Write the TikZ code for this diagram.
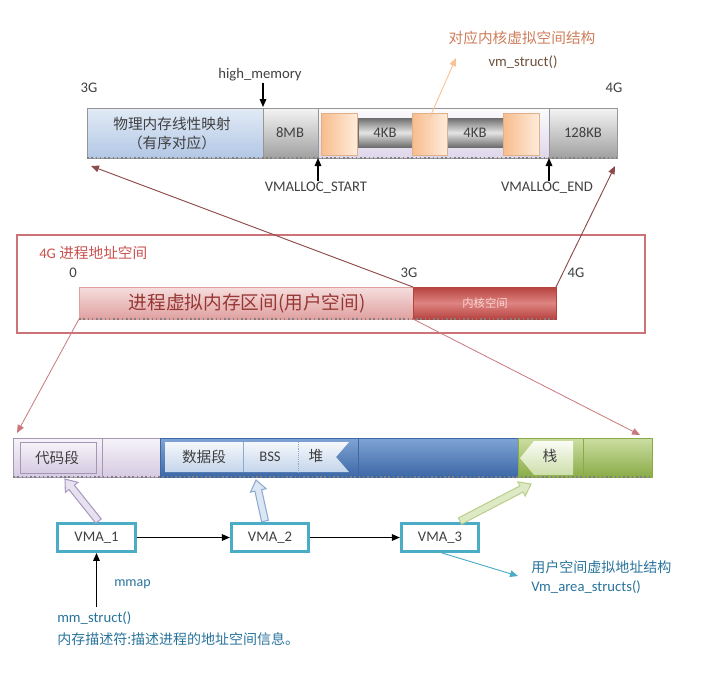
\documentclass[tikz,border=0pt]{standalone}
\usepackage{fontspec}
\setmainfont{Carlito}
\newfontfamily\cjk{Noto Sans CJK SC}
\usetikzlibrary{arrows.meta,positioning,calc}

\definecolor{txtdark}{RGB}{64,64,64}
\definecolor{bargrey}{RGB}{150,150,150}
\definecolor{physTop}{RGB}{226,235,246}
\definecolor{physBot}{RGB}{178,199,229}
\definecolor{greyTop}{RGB}{244,244,244}
\definecolor{greyBot}{RGB}{160,160,160}
\definecolor{lavTop}{RGB}{252,251,253}
\definecolor{lavBot}{RGB}{222,214,234}
\definecolor{orgL}{RGB}{248,188,140}
\definecolor{orgR}{RGB}{254,236,220}
\definecolor{kbDark}{RGB}{110,110,110}
\definecolor{kbLight}{RGB}{228,228,228}
\definecolor{orangetxt}{RGB}{205,125,90}
\definecolor{browntxt}{RGB}{110,80,60}
\definecolor{orangeline}{RGB}{250,195,150}
\definecolor{framered}{RGB}{205,115,120}
\definecolor{titlered}{RGB}{200,80,77}
\definecolor{userTop}{RGB}{246,222,222}
\definecolor{userBot}{RGB}{224,160,160}
\definecolor{usertxt}{RGB}{150,55,52}
\definecolor{kerDark}{RGB}{182,66,63}
\definecolor{kerLight}{RGB}{222,132,129}
\definecolor{kertxt}{RGB}{250,215,215}
\definecolor{linkdark}{RGB}{140,75,75}
\definecolor{linkpink}{RGB}{200,120,125}
\definecolor{codeTop}{RGB}{246,243,249}
\definecolor{codeBot}{RGB}{214,203,226}
\definecolor{codeEdge}{RGB}{165,150,180}
\definecolor{blueTop}{RGB}{128,164,212}
\definecolor{blueBot}{RGB}{60,104,166}
\definecolor{boxTop}{RGB}{245,248,252}
\definecolor{boxBot}{RGB}{196,213,235}
\definecolor{greenTop}{RGB}{204,222,162}
\definecolor{greenBot}{RGB}{138,172,72}
\definecolor{stackTop}{RGB}{250,252,245}
\definecolor{stackBot}{RGB}{205,222,170}
\definecolor{vmateal}{RGB}{75,172,198}
\definecolor{notetxt}{RGB}{40,115,155}
\definecolor{lavFill}{RGB}{232,226,240}
\definecolor{lavEdge}{RGB}{170,155,195}
\definecolor{ltblueFill}{RGB}{220,231,244}
\definecolor{ltblueEdge}{RGB}{140,170,210}
\definecolor{ltgreenFill}{RGB}{222,234,198}
\definecolor{ltgreenEdge}{RGB}{185,208,140}

% hollow block arrow: style, tail, tip, name
\newcommand{\blockarrow}[4]{%
  \coordinate (#4h) at ($(#3)!8pt!(#2)$);
  \draw[#1] ($(#2)!2.6pt!90:(#3)$) -- ($(#4h)!2.6pt!90:(#3)$) -- ($(#4h)!6pt!90:(#3)$) -- (#3)
    -- ($(#4h)!6pt!-90:(#3)$) -- ($(#4h)!2.6pt!-90:(#3)$) -- ($(#2)!2.6pt!-90:(#3)$) -- cycle;}

\begin{document}
\begin{tikzpicture}[x=0.75pt,y=0.75pt,yscale=-1,xscale=1,
    lbl/.style={inner sep=0.75pt,text=txtdark,font=\fontsize{11}{13}\selectfont},
    zh/.style={inner sep=0.75pt,text=txtdark,font=\cjk\fontsize{11}{13}\selectfont},
    edge/.style={draw=bargrey,line width=0.6pt},
    shadowline/.style={draw=gray,dotted,line width=1.2pt},
    ptr/.style={-{Triangle[length=6pt,width=5pt]},line width=0.8pt},
    vmabox/.style={draw=vmateal,line width=2.2pt,fill=white,minimum width=58pt,minimum height=21pt,inner sep=0pt,text=txtdark,font=\fontsize{11}{13}\selectfont}]
\path[use as bounding box] (0,0) rectangle (706,676);

%% ---- kernel virtual address space (top bar) ----
\draw[edge,top color=physTop,bottom color=physBot] (87,108) rectangle (263,158);
\draw[edge,top color=greyTop,bottom color=greyBot] (263,108) rectangle (318,158);
\draw[edge,top color=lavTop,bottom color=lavBot] (318,108) rectangle (549,158);
\draw[edge,top color=greyTop,bottom color=greyBot] (549,108) rectangle (617,158);
\draw[shadowline] (87,158) -- (617,158);
% vm areas inside vmalloc
\draw[draw=kbDark,line width=0.6pt,top color=kbDark,bottom color=kbDark,middle color=kbLight] (358,118) rectangle (412,147);
\draw[draw=kbDark,line width=0.6pt,top color=kbDark,bottom color=kbDark,middle color=kbLight] (447,118) rectangle (503,147);
\draw[draw=orgL!80!gray,line width=0.4pt,left color=orgL,right color=orgR] (321,113) rectangle (357,155);
\draw[draw=orgL!80!gray,line width=0.4pt,left color=orgL,right color=orgR] (412,113) rectangle (447,155);
\draw[draw=orgL!80!gray,line width=0.4pt,left color=orgL,right color=orgR] (503,113) rectangle (539,155);

\node[zh] (phys) at (172,124) {物理内存线性映射};
\node[zh] (physnote) at (172,143) {（有序对应）};
\node[lbl] (mb8) at (290,133) {8MB};
\node[lbl] (kb4a) at (385,133) {4KB};
\node[lbl] (kb4b) at (475,133) {4KB};
\node[lbl] (kb128) at (583,133) {128KB};
\node[lbl] (g3top) at (89,88) {3G};
\node[lbl] (g4top) at (614,88) {4G};

\node[lbl] (highmem) at (260,75) {high\_memory};
\coordinate (hmtip) at (263,107);
\draw[ptr] (highmem.south -| hmtip) -- (hmtip);
\node[lbl] (vstart) at (316,188) {VMALLOC\_START};
\coordinate (vstarttip) at (318,158);
\draw[ptr] (vstart.north -| vstarttip) -- (vstarttip);
\node[lbl] (vend) at (547,188) {VMALLOC\_END};
\coordinate (vendtip) at (549,158);
\draw[ptr] (vend.north -| vendtip) -- (vendtip);

\node[zh,text=orangetxt] (kvtitle) at (522,38) {对应内核虚拟空间结构};
\node[lbl,text=browntxt] (vmstruct) at (523,62) {vm\_struct()};
\coordinate (vmsrc) at (430,117);
\coordinate (vmtip) at (456,58);
\draw[orangeline,line width=0.7pt,-{Triangle[length=6pt,width=5pt]}] (vmsrc) -- (vmtip);

%% ---- 4G process address space (middle) ----
\draw[framered,line width=0.8pt] (17,235) rectangle (645,333);
\node[anchor=west,inner sep=0.75pt,text=titlered,font=\fontsize{11}{13}\selectfont] (pastitle) at (38,253) {4G {\cjk 进程地址空间}};
\node[lbl] (g0) at (73,273) {0};
\node[lbl] (g3mid) at (409,273) {3G};
\node[lbl] (g4mid) at (576,273) {4G};
\draw[draw=userBot,line width=0.5pt,top color=userTop,bottom color=userBot] (79,287) rectangle (413,319);
\draw[draw=kerDark,line width=0.5pt,top color=kerDark,bottom color=kerDark,middle color=kerLight] (413,287) rectangle (556,319);
\draw[shadowline] (79,319) -- (556,319);
\node[zh,text=usertxt,font=\cjk\fontsize{14}{16}\selectfont] (userspace) at (247,303) {进程虚拟内存区间(用户空间)};
\node[zh,text=kertxt,font=\cjk\fontsize{8.5}{10}\selectfont] (kerspace) at (485,303) {内核空间};

\coordinate (ktl) at (413,287);
\coordinate (ktr) at (556,287);
\coordinate (ubl) at (79,319);
\coordinate (kbl) at (413,319);
\coordinate (physbl) at (91,166);
\coordinate (kbr) at (615,166);
\coordinate (segl) at (17,433);
\coordinate (segr) at (640,435);
\draw[linkdark,line width=0.7pt,-{Triangle[length=6pt,width=5pt]}] (ktl) -- (physbl);
\draw[linkdark,line width=0.7pt,-{Triangle[length=6pt,width=5pt]}] (ktr) -- (kbr);
\draw[linkpink,line width=0.6pt,-{Triangle[length=6pt,width=5pt]}] (ubl) -- (segl);
\draw[linkpink,line width=0.6pt,-{Triangle[length=6pt,width=5pt]}] (kbl) -- (segr);

%% ---- user space segments (bottom bar) ----
\draw[draw=codeEdge,line width=0.5pt,top color=codeTop,bottom color=codeBot] (13,438) rectangle (160,477);
\draw[draw=codeEdge,line width=0.4pt] (102,438) -- (102,477);
\draw[draw=codeEdge,line width=0.6pt,top color=codeTop,bottom color=codeBot] (20,442) rectangle (96,473);
\draw[draw=blueBot,line width=0.5pt,top color=blueTop,bottom color=blueBot] (160,438) rectangle (518,477);
\draw[draw=blueBot,line width=0.4pt] (358,438) -- (358,477);
\draw[draw=none,top color=boxTop,bottom color=boxBot] (165,442) -- (349,442) -- (336,457) -- (349,472) -- (165,472) -- cycle;
\draw[draw=ltblueEdge,line width=0.4pt] (243,442) -- (243,472);
\draw[draw=ltblueEdge,line width=0.4pt,densely dotted] (298,442) -- (298,472);
\draw[draw=greenBot,line width=0.5pt,top color=greenTop,bottom color=greenBot] (518,438) rectangle (652,477);
\draw[draw=greenBot,line width=0.4pt] (583,438) -- (583,477);
\draw[draw=none,top color=stackTop,bottom color=stackBot] (520,458) -- (534,441) -- (573,441) -- (573,475) -- (534,475) -- cycle;
\draw[shadowline] (13,477) -- (652,477);

\node[zh] (code) at (57,458) {代码段};
\node[zh] (data) at (204,457) {数据段};
\node[lbl] (bss) at (270,457) {BSS};
\node[zh] (heap) at (316,456) {堆};
\node[zh] (stack) at (550,456) {栈};

%% ---- vm_area_struct list ----
\node[vmabox] (vma1) at (96.5,537.5) {VMA\_1};
\node[vmabox] (vma2) at (270,537.5) {VMA\_2};
\node[vmabox] (vma3) at (440,537.5) {VMA\_3};
\draw[ptr,line width=0.7pt] (vma1) -- (vma2);
\draw[ptr,line width=0.7pt] (vma2) -- (vma3);

\coordinate (codetip) at (65,479);
\coordinate (datatip) at (256,480);
\coordinate (stacktip) at (531,484);
\blockarrow{draw=lavEdge,fill=lavFill,line width=0.8pt}{$(vma1.north)+(2,-1)$}{codetip}{aa}
\blockarrow{draw=ltblueEdge,fill=ltblueFill,line width=0.8pt}{$(vma2.north)+(-5,-1)$}{datatip}{ab}
\blockarrow{draw=ltgreenEdge,fill=ltgreenFill,line width=0.8pt}{$(vma3.north)+(20,-1)$}{stacktip}{ac}

\node[anchor=north west,inner sep=0.75pt,text=notetxt,font=\fontsize{11}{13}\selectfont] (mmstruct) at (56,610) {mm\_struct()};
\node[anchor=north west,inner sep=0.75pt,text=notetxt,font=\cjk\fontsize{10.5}{13}\selectfont] (mmnote) at (56,631) {内存描述符:描述进程的地址空间信息。};
\coordinate (mmsrc) at (96.5,607);
\draw[ptr,line width=0.8pt] (mmsrc) -- (vma1.south);
\node[anchor=west,inner sep=0.75pt,text=notetxt,font=\fontsize{10.5}{13}\selectfont] (mmap) at (113,584) {mmap};

\node[anchor=west,inner sep=0.75pt,text=notetxt,font=\cjk\fontsize{10.5}{13}\selectfont] (vmanote) at (530,567) {用户空间虚拟地址结构};
\node[anchor=west,inner sep=0.75pt,text=notetxt,font=\fontsize{11}{13}\selectfont] (vmaname) at (530,587) {Vm\_area\_structs()};
\coordinate (vmanotetip) at (518,576);
\draw[vmateal,line width=0.7pt,-{Triangle[length=6pt,width=5pt]}] ($(vma3.south)+(2,0)$) -- (vmanotetip);
\end{tikzpicture}
\end{document}
